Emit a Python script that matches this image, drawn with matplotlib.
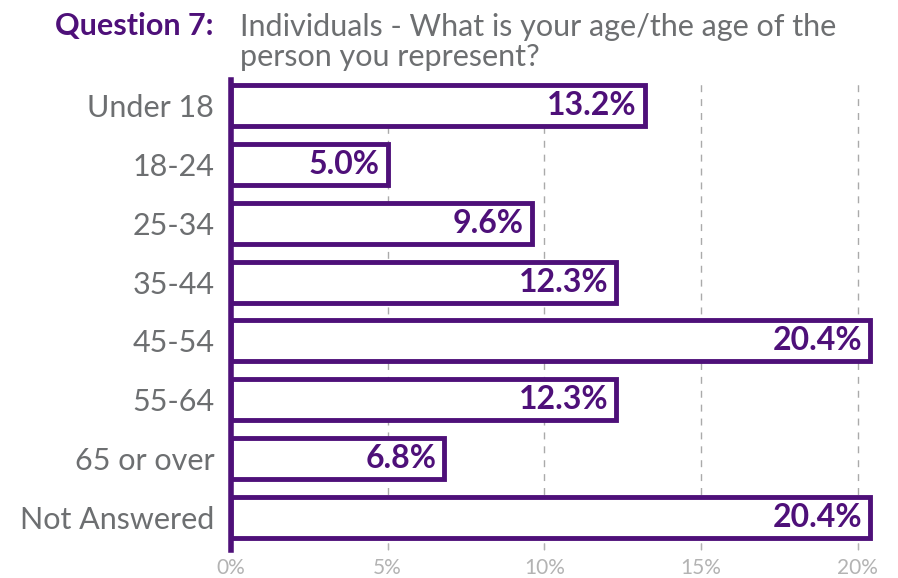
import matplotlib.pyplot as plt

# Data
categories = ["Under 18", "18-24", "25-34", "35-44", "45-54", "55-64", "65 or over", "Not Answered"]
values = [13.2, 5.0, 9.6, 12.3, 20.4, 12.3, 6.8, 20.4]
ticks = [0, 5, 10, 15, 20]

purple = "#4e1079"
grey = "#6d6f71"
light = "#b3b3b3"

plt.rcParams['font.family'] = ['Lato', 'DejaVu Sans']

fig = plt.figure(figsize=(8.98, 5.78), dpi=100)
ax = fig.add_axes([231 / 898, 1 - 550 / 578, (892 - 231) / 898, (550 - 80) / 578])

y = list(range(len(categories)))
ax.barh(y, values, height=0.7, color="white", edgecolor=purple, linewidth=3.5, zorder=3)
for yi, v in zip(y, values):
    ax.text(v - 0.25, yi, f"{v:.1f}%", ha="right", va="center", color=purple,
            fontsize=23, fontweight="bold", zorder=4)

ax.set_ylim(7.56, -0.44)
ax.set_xlim(0, 21.1)
ax.set_yticks(y)
ax.set_yticklabels(categories, fontsize=22, color=grey)
ax.set_xticks(ticks)
ax.set_xticklabels([f"{t}%" for t in ticks], fontsize=15, color=light)
ax.tick_params(axis="y", length=0, pad=12)
ax.tick_params(axis="x", length=5, direction="in", color=light, pad=6)

for t in ticks[1:]:
    ax.axvline(t, color="#aaaaaa", linestyle=(0, (5, 5)), linewidth=1, zorder=1)

for s in ["top", "right", "bottom"]:
    ax.spines[s].set_visible(False)
ax.spines["left"].set_color(purple)
ax.spines["left"].set_linewidth(4)

fig.text(55 / 898, 1 - 26 / 578, "Question 7:", color=purple, fontsize=22,
         fontweight="bold", va="center", ha="left")
fig.text(240 / 898, 1 - 42 / 578, "Individuals - What is your age/the age of the\nperson you represent?",
         color=grey, fontsize=22, va="center", ha="left", linespacing=1.05)

fig.savefig("out.png", dpi=100)
